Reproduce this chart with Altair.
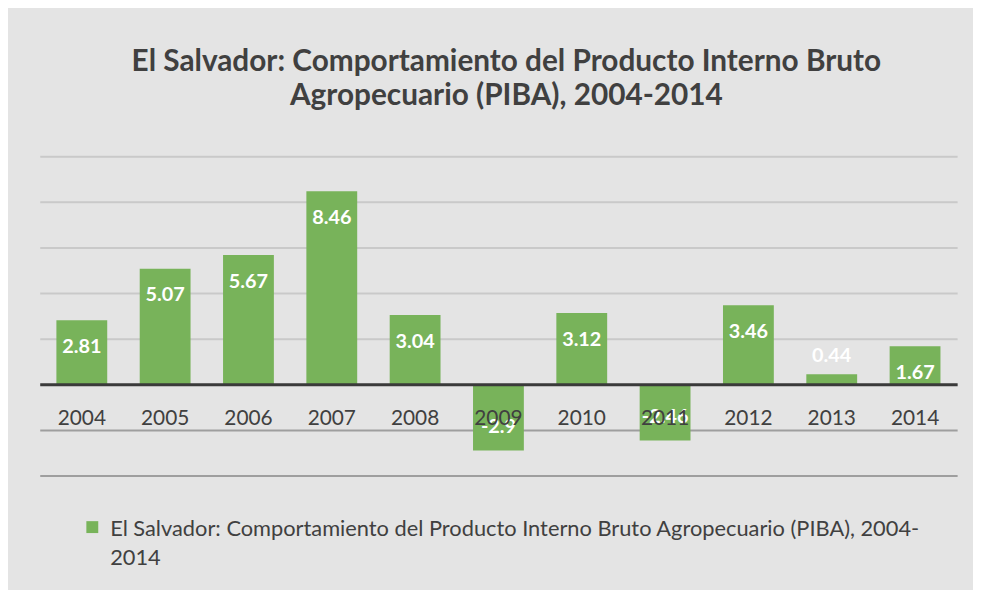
import altair as alt
import pandas as pd

years = ["2004", "2005", "2006", "2007", "2008", "2009", "2010", "2011", "2012", "2013", "2014"]
values = [2.81, 5.07, 5.67, 8.46, 3.04, -2.9, 3.12, -2.46, 3.46, 0.44, 1.67]
value_labels = ["2.81", "5.07", "5.67", "8.46", "3.04", "-2.9", "3.12", "-2.46", "3.46", "0.44", "1.67"]
series_name = "El Salvador: Comportamiento del Producto Interno Bruto Agropecuario (PIBA), 2004-2014"
legend_lines = ["El Salvador: Comportamiento del Producto Interno Bruto Agropecuario (PIBA), 2004-", "2014"]
title_lines = ["El Salvador: Comportamiento del Producto Interno Bruto",
               "Agropecuario (PIBA), 2004-2014"]
grid_values = [-4, -2, 0, 2, 4, 6, 8, 10]

df = pd.DataFrame({"year": years, "value": values, "label": value_labels, "serie": series_name})

FONT = "Lato"
GREEN = "#78b35a"

x_enc = alt.X("year:N", sort=None,
              scale=alt.Scale(paddingInner=0.39, paddingOuter=0.2),
              axis=alt.Axis(title=None, orient="bottom", offset=-92, grid=False, ticks=False,
                            domainColor="#3a3a3a", domainWidth=3, labelAngle=0,
                            labelFont=FONT, labelFontSize=21, labelColor="#404040",
                            labelPadding=24, zindex=1))
y_enc = alt.Y("value:Q", scale=alt.Scale(domain=[-4, 10], nice=False, zero=False),
              axis=alt.Axis(title=None, values=grid_values, labels=False, ticks=False,
                            domain=False, gridWidth=2,
                            gridColor={"condition": {"test": "datum.value < 0", "value": "#9e9e9e"},
                                       "value": "#c9c9c9"}))

base = alt.Chart(df)

bars = base.mark_bar(color=GREEN).encode(
    x=x_enc, y=y_enc,
    color=alt.Color("serie:N", scale=alt.Scale(range=[GREEN]),
                    legend=alt.Legend(title=legend_lines, titleOrient="right", titleAnchor="start",
                                      titleBaseline="top", titleLineHeight=29, titlePadding=10,
                                      titleFont=FONT, titleFontSize=22, titleFontWeight="normal",
                                      titleColor="#404040", titleLimit=1000,
                                      orient="none", legendX=45, legendY=366, padding=0,
                                      symbolType="square", symbolSize=144, symbolStrokeWidth=0,
                                      labelExpr="''", labelFontSize=16, labelOffset=0))
)

txt_kw = dict(font=FONT, fontSize=20, fontWeight="bold", color="white", baseline="middle")
lab_big = base.transform_filter("datum.value >= 1").mark_text(dy=27, **txt_kw).encode(
    x=alt.X("year:N", sort=None), y="value:Q", text="label:N")
lab_small = base.transform_filter("datum.value >= 0 && datum.value < 1").mark_text(dy=-18, **txt_kw).encode(
    x=alt.X("year:N", sort=None), y="value:Q", text="label:N")
lab_neg = base.transform_filter("datum.value < 0").mark_text(dy=-24, **txt_kw).encode(
    x=alt.X("year:N", sort=None), y="value:Q", text="label:N")

chart = alt.layer(bars, lab_big, lab_small, lab_neg).properties(
    width=925, height=322,
    padding={"left": 32, "top": 147, "right": 16, "bottom": 113},
    autosize=alt.AutoSizeParams(type="none"),
    background="#e4e4e4",
    title=alt.TitleParams(
        title_lines, font=FONT, fontSize=30, fontWeight="bold", color="#404040",
        anchor="middle", dx=8, offset=46, lineHeight=34),
).configure_view(stroke=None)

chart.save("out.html", embed_options={"renderer": "svg", "actions": False})
